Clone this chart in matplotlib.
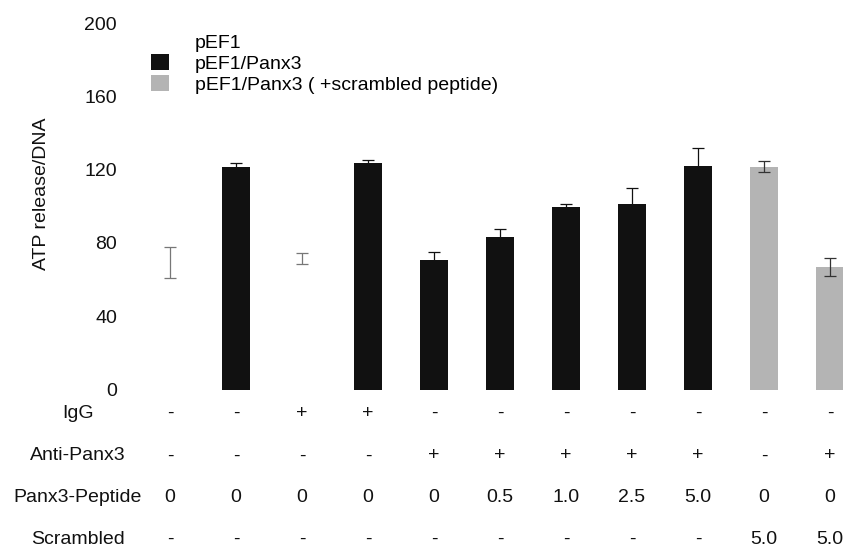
import numpy as np
import matplotlib
matplotlib.use('Agg')
from matplotlib import pyplot as plt
from matplotlib.patches import Patch
from matplotlib import transforms

plt.rcParams['font.family'] = ['Liberation Sans', 'DejaVu Sans']

# values
means = [69.3, 121.5, 71.5, 123.5, 70.5, 83.0, 99.5, 101.0, 122.0, 121.5, 67.0]
errs = [8.5, 2.0, 3.0, 1.5, 4.5, 4.5, 2.0, 9.0, 10.0, 3.0, 5.0]
groups = ['pEF1', 'pEF1/Panx3', 'pEF1', 'pEF1/Panx3', 'pEF1/Panx3', 'pEF1/Panx3',
          'pEF1/Panx3', 'pEF1/Panx3', 'pEF1/Panx3', 'scr', 'scr']

row_names = ['IgG', 'Anti-Panx3', 'Panx3-Peptide', 'Scrambled']
igg = ['-', '-', '+', '+', '-', '-', '-', '-', '-', '-', '-']
anti = ['-', '-', '-', '-', '+', '+', '+', '+', '+', '-', '+']
peptide = ['0', '0', '0', '0', '0', '0.5', '1.0', '2.5', '5.0', '0', '0']
scrambled = ['-', '-', '-', '-', '-', '-', '-', '-', '-', '5.0', '5.0']

fill = {'pEF1': 'white', 'pEF1/Panx3': '#111111', 'scr': '#b4b4b4'}
ecol = {'pEF1': '#777777', 'pEF1/Panx3': '#111111', 'scr': '#333333'}
fs = 14

W, H = 843, 551
fig = plt.figure(figsize=(W / 100, H / 100), dpi=100)
ax = fig.add_axes([140 / W, 1 - 389.5 / H, (W - 140) / W, 366.5 / H])

x = np.arange(len(means))
for i in x:
    g = groups[i]
    ax.bar(i, means[i], width=0.41, color=fill[g], edgecolor='none')
    ax.errorbar(i, means[i], yerr=errs[i], fmt='none', ecolor=ecol[g],
                elinewidth=0.9, capsize=4, capthick=0.9)

ax.set_xlim(-30 / 66, 673 / 66)
ax.set_ylim(0, 200)
ax.set_yticks([0, 40, 80, 120, 160, 200])
ax.set_xticks([])
for s in ax.spines.values():
    s.set_visible(False)
ax.tick_params(axis='y', length=0, pad=16.5, labelsize=fs, labelcolor='#111111')

fig.text(42 / W, 1 - 194 / H, 'ATP release/DNA', rotation=90, ha='center',
         va='center', fontsize=fs, color='#111111')

handles = [Patch(facecolor='white', edgecolor='none'),
           Patch(facecolor='#111111', edgecolor='none'),
           Patch(facecolor='#b4b4b4', edgecolor='none')]
labels = ['pEF1', 'pEF1/Panx3', 'pEF1/Panx3 ( +scrambled peptide)']
ax.legend(handles, labels, loc='upper left', bbox_to_anchor=(151 / W, 1 - 33 / H),
          bbox_transform=fig.transFigure, frameon=False, fontsize=fs,
          handlelength=0.95, handleheight=0.9, handletextpad=1.3,
          labelspacing=0.12, borderpad=0, borderaxespad=0)

# condition table under the bars
trans = transforms.blended_transform_factory(ax.transData, fig.transFigure)
rows = [igg, anti, peptide, scrambled]
row_y = [413, 456, 497, 539]
for name, vals, py in zip(row_names, rows, row_y):
    fig.text(78 / W, 1 - py / H, name, ha='center', va='center',
             fontsize=fs, color='#111111')
    for i, v in enumerate(vals):
        ax.text(i, 1 - py / H, v, transform=trans, ha='center', va='center',
                fontsize=fs, color='#111111', clip_on=False)

fig.savefig('out.png', dpi=100)
